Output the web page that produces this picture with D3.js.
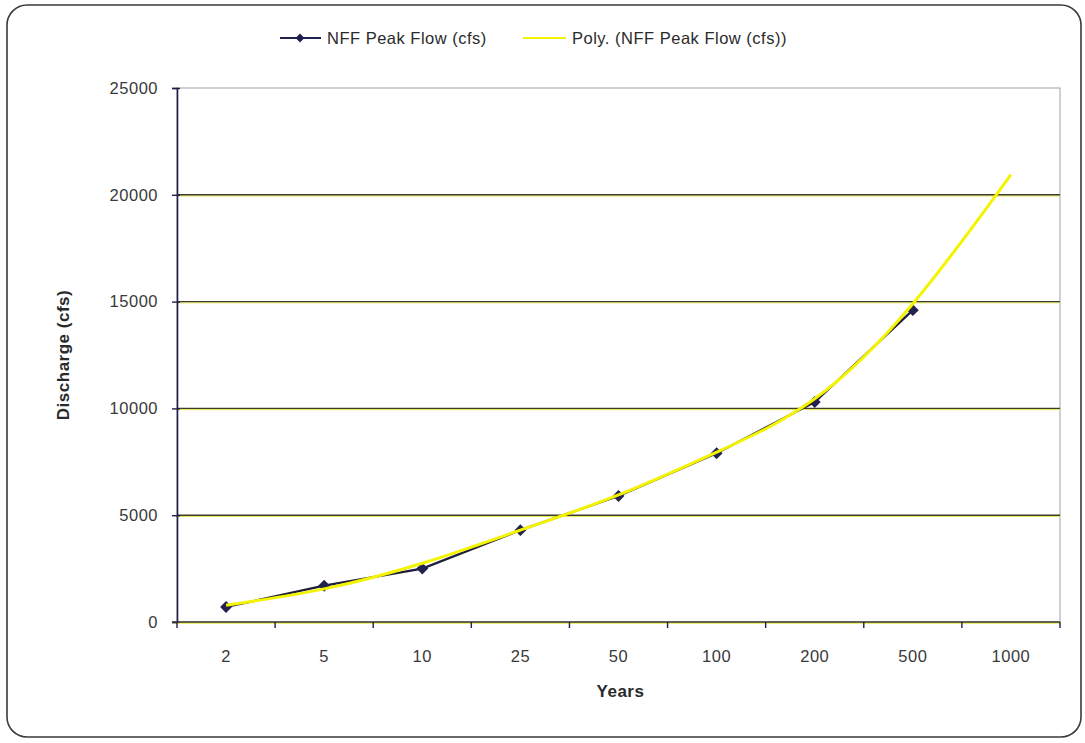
<!DOCTYPE html>
<html><head><meta charset="utf-8">
<script src="https://cdn.jsdelivr.net/npm/d3@7/dist/d3.min.js"></script>
<style>body{margin:0;background:#fff;} text{font-family:"Liberation Sans",Arial,sans-serif;letter-spacing:0.5px;}</style>
</head><body>
<svg id="chart" width="1085" height="743"></svg>
<script>
const categories = ["2","5","10","25","50","100","200","500","1000"];
const peakFlow = [700, 1700, 2500, 4300, 5900, 7900, 10300, 14600, null];
const polyTrend = [780, 1550, 2750, 4300, 5950, 7950, 10450, 14900, 20950];
const yTicks = [0, 5000, 10000, 15000, 20000, 25000];
const seriesNames = ["NFF Peak Flow (cfs)", "Poly. (NFF Peak Flow (cfs))"];

const svg = d3.select("#chart");
const L = 177, R = 1060, T = 88, B = 622;

svg.append("rect").attr("x",7).attr("y",5).attr("width",1074).attr("height",732)
  .attr("rx",20).attr("fill","#fff").attr("stroke","#3a3a3a").attr("stroke-width",1.6);

const x = d3.scaleBand().domain(categories).range([L,R]);
const y = d3.scaleLinear().domain([0,25000]).range([B,T]);

// plot area border
svg.append("rect").attr("x",L).attr("y",T).attr("width",R-L).attr("height",B-T)
  .attr("fill","none").attr("stroke","#a0a0a8").attr("stroke-width",1);

// gridlines
const g = svg.append("g");
yTicks.filter(d=>d>0 && d<25000).forEach(d=>{
  g.append("line").attr("x1",L).attr("x2",R).attr("y1",y(d)+1.2).attr("y2",y(d)+1.2)
    .attr("stroke","#e6e640").attr("stroke-width",1);
  g.append("line").attr("x1",L).attr("x2",R).attr("y1",y(d)).attr("y2",y(d))
    .attr("stroke","#3c3c30").attr("stroke-width",1.4);
});

// y axis
const yAxis = svg.append("g").attr("transform",`translate(${L},0)`)
  .call(d3.axisLeft(y).tickValues(yTicks).tickSize(5).tickPadding(14).tickFormat(d3.format("d")));
yAxis.select(".domain").attr("stroke","#20204a").attr("stroke-width",1.6);
yAxis.selectAll(".tick line").attr("stroke","#20204a").attr("stroke-width",1.4).attr("x2",-5).attr("x1",3);
yAxis.selectAll(".tick text").attr("font-size",16.5).attr("fill","#3a3a3a");

// x axis
svg.append("line").attr("x1",L).attr("x2",R).attr("y1",B+1.2).attr("y2",B+1.2).attr("stroke","#e6e640").attr("stroke-width",1.2);
svg.append("line").attr("x1",L-5).attr("x2",R).attr("y1",B).attr("y2",B).attr("stroke","#3c3c30").attr("stroke-width",1.5);
const bounds = categories.map(c=>x(c)).concat([R]);
bounds.forEach(bx=>{
  svg.append("line").attr("x1",bx).attr("x2",bx).attr("y1",B).attr("y2",B+6).attr("stroke","#20204a").attr("stroke-width",1.4);
});
const xAxis = svg.append("g").attr("transform",`translate(0,${B})`)
  .call(d3.axisBottom(x).tickSize(0).tickPadding(28));
xAxis.select(".domain").remove();
xAxis.selectAll(".tick text").attr("font-size",16.5).attr("fill","#3a3a3a");

// axis titles
svg.append("text").attr("x",(L+R)/2+2).attr("y",697).attr("text-anchor","middle")
  .attr("font-size",17).attr("font-weight","bold").attr("fill","#2a2a2a").text("Years");
svg.append("text").attr("transform",`translate(69,${(T+B)/2}) rotate(-90)`).attr("text-anchor","middle")
  .attr("font-size",17).attr("font-weight","bold").attr("fill","#2a2a2a").text("Discharge (cfs)");

const cx = c => x(c) + x.bandwidth()/2;
const pts = categories.map((c,i)=>({c, v:peakFlow[i]})).filter(d=>d.v!=null);

// data line
svg.append("path").datum(pts)
  .attr("d", d3.line().x(d=>cx(d.c)).y(d=>y(d.v)))
  .attr("fill","none").attr("stroke","#1e1e3c").attr("stroke-width",2.2);

const diamond = d3.symbol().type(d3.symbolDiamond2).size(90);
svg.append("g").selectAll("path").data(pts).join("path")
  .attr("d", diamond).attr("transform", d=>`translate(${cx(d.c)},${y(d.v)})`)
  .attr("fill","#22224e");

// trend
const tr = categories.map((c,i)=>({c, v:polyTrend[i]}));
svg.append("path").datum(tr)
  .attr("d", d3.line().curve(d3.curveNatural).x(d=>cx(d.c)).y(d=>y(d.v)))
  .attr("fill","none").attr("stroke","#f4f400").attr("stroke-width",3);

// legend
const lg = svg.append("g");
lg.append("line").attr("x1",280).attr("x2",321).attr("y1",38).attr("y2",38).attr("stroke","#20204e").attr("stroke-width",2);
lg.append("path").attr("d",d3.symbol().type(d3.symbolDiamond2).size(50)).attr("transform","translate(300,38)").attr("fill","#20204e");
lg.append("text").attr("x",327).attr("y",44).attr("font-size",16.5).attr("fill","#2a2a2a").text(seriesNames[0]);
lg.append("line").attr("x1",523).attr("x2",566).attr("y1",38).attr("y2",38).attr("stroke","#f4f400").attr("stroke-width",2);
lg.append("text").attr("x",572).attr("y",44).attr("font-size",16.5).attr("fill","#2a2a2a").text(seriesNames[1]);
</script>
</body></html>
